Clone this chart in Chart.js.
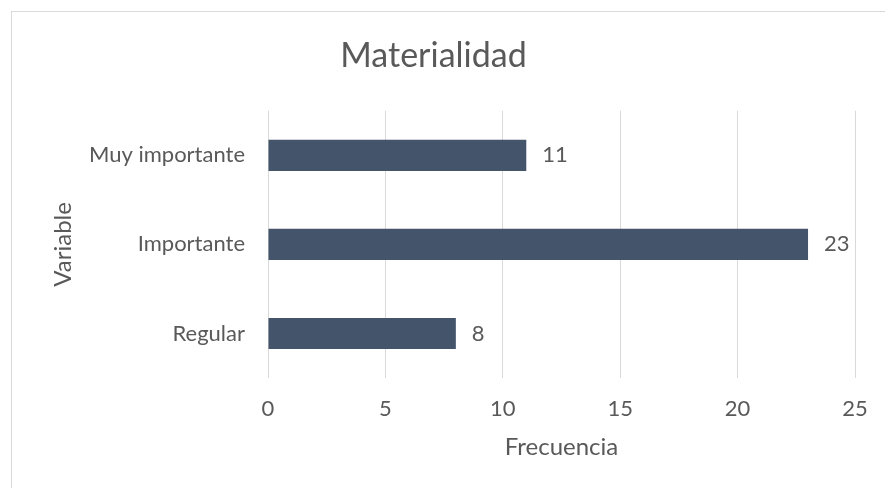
<!DOCTYPE html>
<html>
<head>
<meta charset="utf-8">
<script src="https://cdn.jsdelivr.net/npm/chart.js@4/dist/chart.umd.min.js"></script>
<style>
  html, body { margin: 0; padding: 0; background: #fff; overflow: hidden; }
  #frame {
    position: absolute; left: 11px; top: 11px;
    width: 885px; height: 476px;
    border-left: 1px solid #d9d9d9; border-top: 1px solid #d9d9d9;
  }
</style>
</head>
<body>
<div id="frame"><canvas id="barChart" width="885" height="476"></canvas></div>
<script>
// data
const categories = ['Muy importante', 'Importante', 'Regular']
const values = [11, 23, 8]
const xMin = 0
const xMax = 25
const xStep = 5

const textColor = '#595959'
const fontFamily = 'Lato, "Open Sans", sans-serif'

// value labels at the end of each bar
const barLabels = {
  id: 'barLabels',
  afterDatasetsDraw(chart) {
    const ctx = chart.ctx
    const meta = chart.getDatasetMeta(0)
    ctx.save()
    ctx.font = '22px ' + fontFamily
    ctx.fillStyle = textColor
    ctx.textAlign = 'left'
    ctx.textBaseline = 'middle'
    meta.data.forEach((bar, i) => {
      ctx.fillText(values[i], bar.x + 16, bar.y)
    })
    ctx.restore()
  },
}

const canvas = document.getElementById('barChart')
const myChart = new Chart(canvas, {
  type: 'bar',
  data: {
    labels: categories,
    datasets: [
      {
        data: values,
        backgroundColor: '#44546a',
        barPercentage: 0.35,
        categoryPercentage: 1,
      },
    ],
  },
  options: {
    indexAxis: 'y',
    responsive: false,
    animation: false,
    layout: { padding: { top: 0, right: 42, bottom: 0, left: 0 } },
    scales: {
      x: {
        min: xMin,
        max: xMax,
        ticks: {
          stepSize: xStep,
          color: textColor,
          padding: 18,
          font: { family: fontFamily, size: 22 },
        },
        grid: { color: '#d9d9d9', drawTicks: false },
        border: { display: false },
        title: {
          display: true,
          text: 'Frecuencia',
          color: textColor,
          padding: { top: 0, bottom: 26 },
          font: { family: fontFamily, size: 24 },
        },
        afterFit: (scale) => { scale.height = 110 },
      },
      y: {
        ticks: {
          color: textColor,
          padding: 23,
          font: { family: fontFamily, size: 22 },
        },
        grid: { display: false, drawTicks: false },
        border: { display: false },
        title: {
          display: true,
          text: 'Variable',
          color: textColor,
          padding: { top: 37, bottom: 0 },
          font: { family: fontFamily, size: 24 },
        },
        afterFit: (scale) => { scale.width = 256 },
      },
    },
    plugins: {
      legend: { display: false },
      tooltip: { enabled: false },
      title: {
        display: true,
        text: 'Materialidad',
        color: textColor,
        padding: { top: 24, bottom: 34 },
        font: { family: fontFamily, size: 34, weight: 'normal' },
      },
    },
  },
  plugins: [barLabels],
})
</script>
</body>
</html>
